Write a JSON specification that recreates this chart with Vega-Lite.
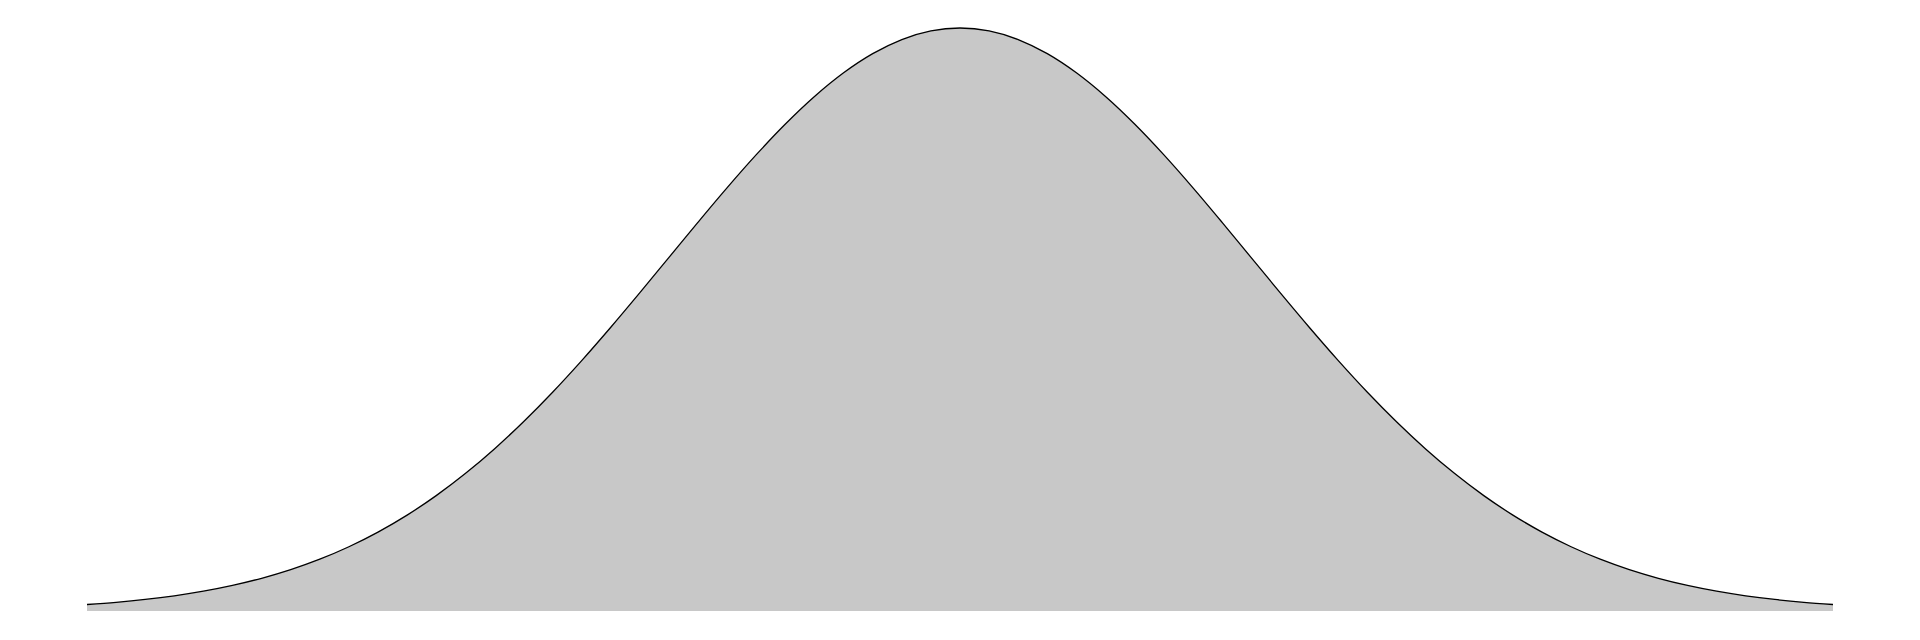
{
  "$schema": "https://vega.github.io/schema/vega-lite/v6.json",
  "autosize": {"type": "none"},
  "padding": {"left": 87, "top": 28, "right": 87, "bottom": 29},
  "width": 1746,
  "height": 583,
  "background": "white",
  "config": {"view": {"stroke": null}},
  "data": {"values": [
    {"x": -3.0, "y": 0.00443}, {"x": -2.9, "y": 0.00595}, {"x": -2.8, "y": 0.00792}, {"x": -2.7, "y": 0.01042},
    {"x": -2.6, "y": 0.01358}, {"x": -2.5, "y": 0.01753}, {"x": -2.4, "y": 0.02239}, {"x": -2.3, "y": 0.02833},
    {"x": -2.2, "y": 0.03547}, {"x": -2.1, "y": 0.04398}, {"x": -2.0, "y": 0.05399}, {"x": -1.9, "y": 0.06562},
    {"x": -1.8, "y": 0.07895}, {"x": -1.7, "y": 0.09405}, {"x": -1.6, "y": 0.11092}, {"x": -1.5, "y": 0.12952},
    {"x": -1.4, "y": 0.14973}, {"x": -1.3, "y": 0.17137}, {"x": -1.2, "y": 0.19419}, {"x": -1.1, "y": 0.21785},
    {"x": -1.0, "y": 0.24197}, {"x": -0.9, "y": 0.26609}, {"x": -0.8, "y": 0.28969}, {"x": -0.7, "y": 0.31225},
    {"x": -0.6, "y": 0.33322}, {"x": -0.5, "y": 0.35207}, {"x": -0.4, "y": 0.36827}, {"x": -0.3, "y": 0.38139},
    {"x": -0.2, "y": 0.39104}, {"x": -0.1, "y": 0.39695}, {"x": 0.0, "y": 0.39894},
    {"x": 0.1, "y": 0.39695}, {"x": 0.2, "y": 0.39104}, {"x": 0.3, "y": 0.38139}, {"x": 0.4, "y": 0.36827},
    {"x": 0.5, "y": 0.35207}, {"x": 0.6, "y": 0.33322}, {"x": 0.7, "y": 0.31225}, {"x": 0.8, "y": 0.28969},
    {"x": 0.9, "y": 0.26609}, {"x": 1.0, "y": 0.24197}, {"x": 1.1, "y": 0.21785}, {"x": 1.2, "y": 0.19419},
    {"x": 1.3, "y": 0.17137}, {"x": 1.4, "y": 0.14973}, {"x": 1.5, "y": 0.12952}, {"x": 1.6, "y": 0.11092},
    {"x": 1.7, "y": 0.09405}, {"x": 1.8, "y": 0.07895}, {"x": 1.9, "y": 0.06562}, {"x": 2.0, "y": 0.05399},
    {"x": 2.1, "y": 0.04398}, {"x": 2.2, "y": 0.03547}, {"x": 2.3, "y": 0.02833}, {"x": 2.4, "y": 0.02239},
    {"x": 2.5, "y": 0.01753}, {"x": 2.6, "y": 0.01358}, {"x": 2.7, "y": 0.01042}, {"x": 2.8, "y": 0.00792},
    {"x": 2.9, "y": 0.00595}, {"x": 3.0, "y": 0.00443}
  ]},
  "encoding": {
    "x": {"field": "x", "type": "quantitative", "scale": {"domain": [-3, 3], "nice": false}, "axis": null},
    "y": {"field": "y", "type": "quantitative", "scale": {"domain": [0, 0.39894], "nice": false, "zero": true}, "axis": null}
  },
  "layer": [
    {"mark": {"type": "area", "color": "#c8c8c8", "interpolate": "monotone", "opacity": 1}},
    {"mark": {"type": "line", "color": "black", "strokeWidth": 1.3, "interpolate": "monotone"}}
  ]
}
